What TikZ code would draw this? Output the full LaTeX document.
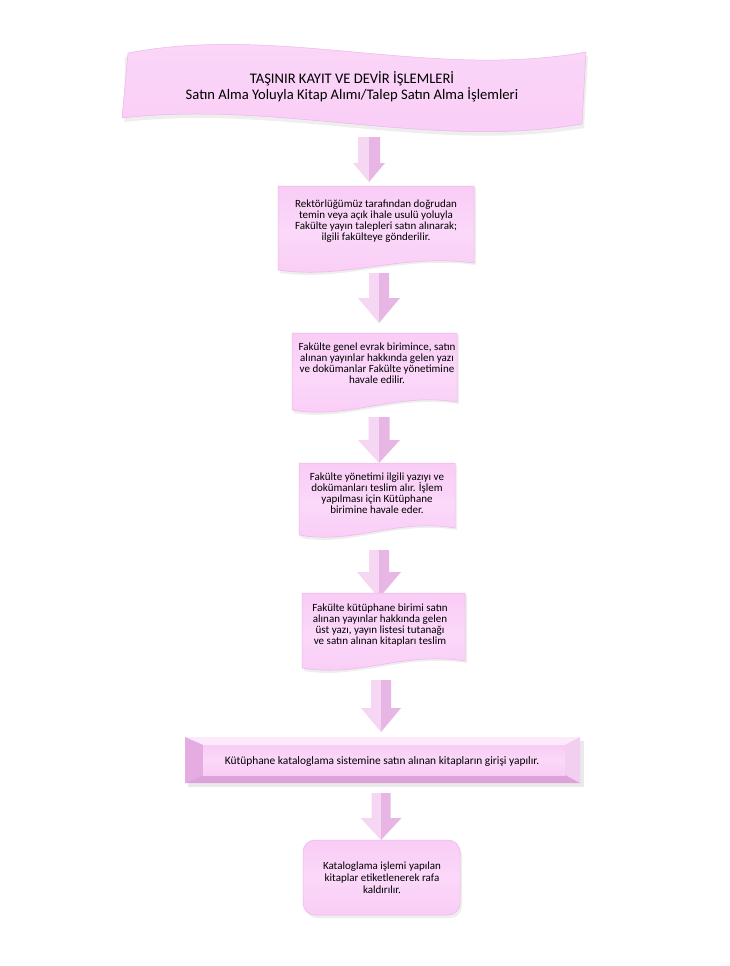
\documentclass[tikz,border=0pt]{standalone}
\usepackage{fontspec}
\setmainfont{Carlito}
\definecolor{pinkfill}{RGB}{249,204,246}
\definecolor{pinklight}{RGB}{251,216,249}
\definecolor{pinkedge}{RGB}{236,182,232}
\definecolor{arrowlight}{RGB}{245,214,243}
\definecolor{arrowdark}{RGB}{232,182,228}
\definecolor{bevtop}{RGB}{252,234,250}
\definecolor{bevleft}{RGB}{228,172,224}
\definecolor{bevright}{RGB}{242,206,240}
\definecolor{bevbottom}{RGB}{222,162,218}
\definecolor{shadowgray}{RGB}{200,200,200}
\newcommand\blockarr[7]{% name, cx, top, headbase, tip, shaftHW, headHW
  \fill[arrowlight] (#2-#6,#3) -- (#2,#3) -- (#2,#5) -- (#2-#7,#4) -- (#2-#6,#4) -- cycle;
  \fill[arrowdark] (#2+#6,#3) -- (#2,#3) -- (#2,#5) -- (#2+#7,#4) -- (#2+#6,#4) -- cycle;
  \coordinate (#1) at (#2,#5);
}
\newcommand\docshape[5]{% x1, y1, x2, yleftbottom, yrightbottom
  \fill[shadowgray,opacity=0.3] (#1+2,#2+2) -- (#3+2,#2+2) -- (#3+2,#5+2) .. controls (#1+0.62*#3-0.62*#1,#5-8) and (#1+0.35*#3-0.35*#1,#4+12) .. (#1+2,#4+3) -- cycle;
  \path[boxfill] (#1,#2) -- (#3,#2) -- (#3,#5) .. controls (#1+0.62*#3-0.62*#1,#5-10) and (#1+0.35*#3-0.35*#1,#4+10) .. (#1,#4) -- cycle;
}
\begin{document}
\begin{tikzpicture}[x=1pt,y=-1pt,
  txt/.style={align=center,font=\fontsize{11}{11}\selectfont,inner sep=0pt},
  boxfill/.style={top color=pinkfill,bottom color=pinkfill,middle color=pinklight,draw=pinkedge,line width=0.5pt},
  titletxt/.style={align=center,font=\fontsize{14.6}{15.5}\selectfont,inner sep=0pt}]
\useasboundingbox[fill=white] (0,0) rectangle (729,966);

% banner
\fill[shadowgray,opacity=0.3] (125,57) .. controls (280,28) and (430,84) .. (588,56) -- (584,128) .. controls (432,154) and (282,104) .. (124,122) -- cycle;
\path[top color=pinklight,bottom color=pinkfill,draw=pinkedge,line width=0.5pt]
  (128,53) .. controls (280,24) and (430,80) .. (586,52) -- (582,124) .. controls (430,150) and (280,100) .. (122,118) -- cycle;
\node[titletxt] (title) at (352,87) {TAŞINIR KAYIT VE DEVİR İŞLEMLERİ\\Satın Alma Yoluyla Kitap Alımı/Talep Satın Alma İşlemleri};

% arrows
\blockarr{a1}{369}{137}{163}{182}{11}{16}
\blockarr{a2}{379}{273}{298}{323}{10}{21}
\blockarr{a3}{379}{417}{440}{463}{10.5}{21}
\blockarr{a4}{379}{550}{572}{598}{10}{22}
\blockarr{a5}{381}{680}{708}{732}{10}{20}
\blockarr{a6}{381}{793}{818}{840}{9.5}{20.5}

% box 1
\docshape{278}{186}{474}{270}{263}
\node[txt] (b1) at (376,221) {Rektörlüğümüz tarafından doğrudan\\temin veya açık ihale usulü yoluyla\\Fakülte yayın talepleri satın alınarak;\\ilgili fakülteye gönderilir.};
% box 2
\docshape{292}{333}{457}{410}{402}
\node[txt] (b2) at (377,363.5) {Fakülte genel evrak birimince, satın\\alınan yayınlar hakkında gelen yazı\\ve dokümanlar Fakülte yönetimine\\havale edilir.};
% box 3
\docshape{299}{463}{455}{535}{528}
\node[txt] (b3) at (377,493) {Fakülte yönetimi ilgili yazıyı ve\\dokümanları teslim alır. İşlem\\yapılması için Kütüphane\\birimine havale eder.};
% box 4
\docshape{302}{593}{465}{668}{661}
\node[txt] (b4) at (380,625) {Fakülte kütüphane birimi satın\\alınan yayınlar hakkında gelen\\üst yazı, yayın listesi tutanağı\\ve satın alınan kitapları teslim};

% box 5 (bevel)
\fill[shadowgray,opacity=0.4] (188,741) rectangle (584,787);
\fill[bevtop] (185,737) -- (580,737) -- (565,745) -- (203,745) -- cycle;
\fill[bevleft] (185,737) -- (203,745) -- (203,775) -- (185,783) -- cycle;
\fill[bevright] (580,737) -- (580,783) -- (565,775) -- (565,745) -- cycle;
\fill[bevbottom] (185,783) -- (580,783) -- (565,775) -- (203,775) -- cycle;
\fill[top color=pinkfill,bottom color=pinkfill,middle color=pinklight] (203,745) rectangle (565,775);
\node[txt,font=\fontsize{11.4}{12}\selectfont] (b5) at (382,762) {Kütüphane kataloglama sistemine satın alınan kitapların girişi yapılır.};

% box 6 (rounded)
\fill[shadowgray,opacity=0.3,rounded corners=12pt] (305,843) rectangle (462,918);
\path[boxfill,rounded corners=12pt] (303,840) rectangle (460,915);
\node[txt,font=\fontsize{11}{12}\selectfont] (b6) at (382,878) {Kataloglama işlemi yapılan\\kitaplar etiketlenerek rafa\\kaldırılır.};
\end{tikzpicture}
\end{document}
